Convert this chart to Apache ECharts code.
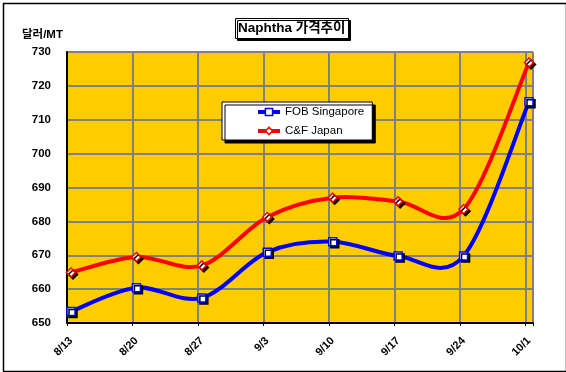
<!DOCTYPE html>
<html><head><meta charset="utf-8">
<script src="https://cdn.jsdelivr.net/npm/echarts@6/dist/echarts.min.js"></script>
<style>html,body{margin:0;padding:0;background:#fff}#c{width:566px;height:372px}</style>
</head><body><div id="c"></div>
<script>
const categories = ['8/13', '8/20', '8/27', '9/3', '9/10', '9/17', '9/24', '10/1'];
const fobSingapore = [653.4, 660.4, 657.4, 670.9, 674.0, 669.8, 669.8, 715.3];
const cfJapan = [664.9, 669.5, 667.0, 681.3, 687.0, 685.9, 683.6, 726.9];
const seriesNames = ['FOB Singapore', 'C&F Japan'];
const yMin = 650, yMax = 730, yStep = 10;
const chartTitle = 'Naphtha 가격추이';
const unitLabel = '달러/MT';

const FONT = '"Liberation Sans", Arial, "Noto Sans CJK KR", sans-serif';
const chart = echarts.init(document.getElementById('c'), null, { renderer: 'canvas' });

// Excel-like smoothed line: cubic Bezier (Catmull-Rom) segments through the data points,
// positioned with the axes' own coordinate conversion (api.coord).
function smoothRenderer(color) {
  return function (params, api) {
    const i = params.dataIndexInside;
    const n = params.dataInsideLength;
    if (i >= n - 1) return null;
    const pt = function (j) {
      j = Math.max(0, Math.min(n - 1, j));
      return api.coord([api.value(0, j), api.value(1, j)]);
    };
    const p0 = pt(i - 1), p1 = pt(i), p2 = pt(i + 1), p3 = pt(i + 2);
    const t = 1 / 6;
    return {
      type: 'bezierCurve',
      silent: true,
      shape: {
        x1: p1[0], y1: p1[1], x2: p2[0], y2: p2[1],
        cpx1: p1[0] + (p2[0] - p0[0]) * t, cpy1: p1[1] + (p2[1] - p0[1]) * t,
        cpx2: p2[0] - (p3[0] - p1[0]) * t, cpy2: p2[1] - (p3[1] - p1[1]) * t
      },
      style: { stroke: color, lineWidth: 4, fill: 'none', lineCap: 'round' }
    };
  };
}

const option = {
  animation: false,
  backgroundColor: '#fff',
  title: [
    { text: chartTitle, left: 235, top: 18, padding: [4, 3, 3, 3], backgroundColor: '#fff',
      borderColor: '#000', borderWidth: 1, shadowColor: '#000', shadowOffsetX: 2, shadowOffsetY: 2, shadowBlur: 0,
      textStyle: { fontFamily: FONT, fontSize: 13.5, fontWeight: 'bold', color: '#000' } },
    { text: unitLabel, left: 22, top: 29, padding: 0,
      textStyle: { fontFamily: FONT, fontSize: 11.5, fontWeight: 'bold', color: '#000' } }
  ],
  legend: {
    left: 222, top: 102, orient: 'vertical', data: seriesNames,
    backgroundColor: '#fff', borderColor: '#000', borderWidth: 1,
    shadowColor: '#000', shadowOffsetX: 3, shadowOffsetY: 3, shadowBlur: 0,
    padding: [3, 8, 2, 34], itemWidth: 22, itemHeight: 9, itemGap: 5,
    itemStyle: { shadowColor: 'transparent', borderWidth: 1.5 },
    lineStyle: { opacity: 1, width: 4 },
    textStyle: { fontFamily: FONT, fontSize: 11.5, color: '#000', lineHeight: 14 }
  },
  grid: [
    { left: 67, top: 52, width: 466, height: 271, show: true, backgroundColor: '#FFCC00', borderWidth: 0 },
    { left: 71, top: 52, width: 458, height: 271 }
  ],
  xAxis: [
    { gridIndex: 0, type: 'value', min: 0, max: 466 / 65.5, interval: 1,
      axisLine: { show: true, onZero: false, lineStyle: { color: '#000', width: 2 } },
      axisTick: { show: true, length: 3, lineStyle: { color: '#000' } },
      axisLabel: { show: false },
      splitLine: { show: true, lineStyle: { color: '#808080', width: 2 } } },
    { gridIndex: 1, type: 'category', data: categories, boundaryGap: false,
      axisLine: { show: false }, axisTick: { show: false }, splitLine: { show: false },
      axisLabel: { rotate: 45, margin: 16, fontFamily: FONT, fontSize: 11, fontWeight: 'bold', color: '#000' } }
  ],
  yAxis: [
    { gridIndex: 0, type: 'value', min: yMin, max: yMax, interval: yStep,
      axisLine: { show: true, lineStyle: { color: '#000', width: 2 } },
      axisTick: { show: false },
      axisLabel: { margin: 16, fontFamily: FONT, fontSize: 11.5, fontWeight: 'bold', color: '#000' },
      splitLine: { show: true, lineStyle: { color: '#808080', width: 2 } } },
    { gridIndex: 1, type: 'value', min: yMin, max: yMax, show: false, splitLine: { show: false } }
  ],
  series: [
    { name: seriesNames[0] + ' curve', type: 'custom', xAxisIndex: 1, yAxisIndex: 1, z: 2,
      data: fobSingapore.map(function (v, i) { return [i, v]; }), encode: { x: 0, y: 1 },
      renderItem: smoothRenderer('#0000FF') },
    { name: seriesNames[1] + ' curve', type: 'custom', xAxisIndex: 1, yAxisIndex: 1, z: 2,
      data: cfJapan.map(function (v, i) { return [i, v]; }), encode: { x: 0, y: 1 },
      renderItem: smoothRenderer('#FF0000') },
    { name: seriesNames[0], type: 'line', xAxisIndex: 1, yAxisIndex: 1, data: fobSingapore,
      symbol: 'rect', symbolSize: 8, z: 3,
      lineStyle: { color: '#0000FF', width: 4, opacity: 0 },
      itemStyle: { color: '#fff', borderColor: '#0000FF', borderWidth: 1.5,
        shadowColor: '#000', shadowOffsetX: 2, shadowOffsetY: 2, shadowBlur: 0 } },
    { name: seriesNames[1], type: 'line', xAxisIndex: 1, yAxisIndex: 1, data: cfJapan,
      symbol: 'diamond', symbolSize: 9, z: 3,
      lineStyle: { color: '#FF0000', width: 4, opacity: 0 },
      itemStyle: { color: '#fff', borderColor: '#FF0000', borderWidth: 1.5,
        shadowColor: '#000', shadowOffsetX: 2, shadowOffsetY: 2, shadowBlur: 0 } }
  ],
  graphic: [
    { type: 'rect', left: 1, top: 1, z: 100, silent: true,
      shape: { width: 563, height: 368 },
      style: { fill: 'none', stroke: '#000', lineWidth: 1.5 } }
  ]
};
chart.setOption(option);
</script>
</body></html>
